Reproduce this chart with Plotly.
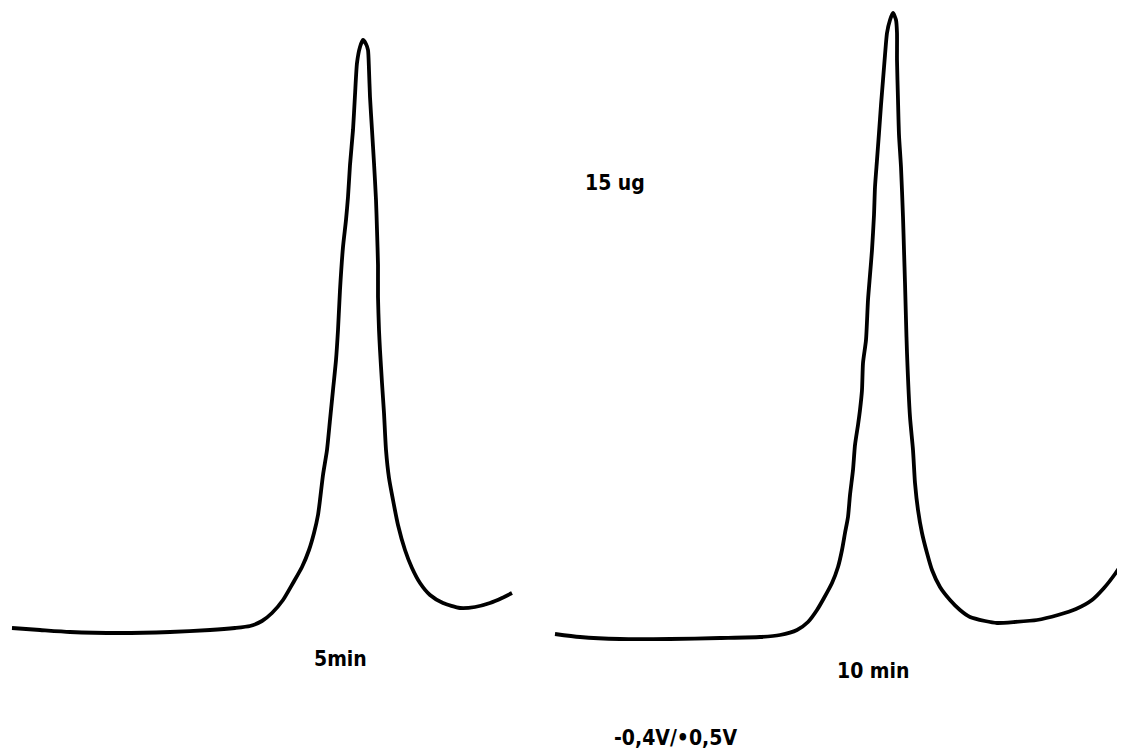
import plotly.graph_objects as go

# Chromatogram traces (arbitrary time units, detector signal units)
t1 = [12, 40, 70, 120, 170, 210, 235, 250, 262, 272, 283, 293, 302, 309, 314, 318, 320, 323, 327, 330,
      333, 336, 338, 340, 343, 346, 348, 350, 353, 355, 357, 360, 363, 366, 368, 369, 370, 372, 374, 376,
      377, 378, 378, 379, 380, 382, 384, 386, 389, 393, 398, 405, 412, 420, 430, 443, 460, 475, 490, 502, 512]
s1 = [125, 123, 121, 120, 121, 123, 125, 127, 132, 140, 153, 170, 186, 203, 220, 238, 253, 278, 303, 333,
      363, 393, 423, 463, 506, 533, 556, 588, 623, 658, 690, 706, 713, 709, 703, 683, 656, 623, 590, 553,
      523, 488, 456, 423, 403, 370, 340, 303, 275, 253, 228, 203, 185, 170, 158, 150, 145, 146, 150, 155, 160]

t2 = [555, 580, 620, 670, 720, 760, 780, 797, 808, 817, 824, 832, 838, 842, 845, 848, 850, 853, 855, 858,
      860, 862, 863, 866, 868, 870, 872, 874, 875, 877, 879, 881, 883, 885, 887, 890, 893, 896, 897, 897,
      898, 899, 901, 903, 904, 905, 906, 907, 910, 913, 915, 918, 922, 927, 932, 940, 950, 960, 970, 985,
      997, 1015, 1037, 1058, 1076, 1092, 1104, 1115, 1125]
s2 = [119, 116, 114, 114, 115, 116, 118, 123, 131, 143, 155, 170, 186, 203, 220, 236, 258, 283, 308, 328,
      343, 363, 390, 413, 453, 478, 503, 538, 566, 593, 620, 648, 673, 698, 720, 733, 740, 733, 720, 693,
      653, 618, 586, 536, 503, 470, 433, 400, 336, 303, 270, 243, 220, 200, 183, 166, 153, 143, 136, 132,
      130, 131, 133, 138, 144, 153, 165, 179, 194]

label_texts = ["15 ug", "5min", "10 min", "-0,4V/•0,5V"]
label_x = [615, 340, 873, 675]
label_y = [570, 94, 82, 15]

fig = go.Figure()
for t, s in [(t1, s1), (t2, s2)]:
    fig.add_trace(go.Scatter(x=t, y=s, mode="lines",
                             line=dict(color="black", width=3.8, shape="spline", smoothing=0.6),
                             showlegend=False, hoverinfo="skip", cliponaxis=False))

for txt, x, y in zip(label_texts, label_x, label_y):
    fig.add_annotation(x=x, y=y, text="<b>" + txt + "</b>", showarrow=False,
                       font=dict(family="DejaVu Sans Condensed, DejaVu Sans", size=21, color="black"),
                       xanchor="center", yanchor="middle")

# the page body has an 8px margin, so the figure starts at (8, 8) in the window
fig.update_xaxes(range=[8, 1125], visible=False, showgrid=False, zeroline=False)
fig.update_yaxes(range=[0, 745], visible=False, showgrid=False, zeroline=False)
fig.update_layout(width=1117, height=745, margin=dict(l=0, r=0, t=0, b=0),
                  paper_bgcolor="white", plot_bgcolor="white")

fig.write_html("out.html")
